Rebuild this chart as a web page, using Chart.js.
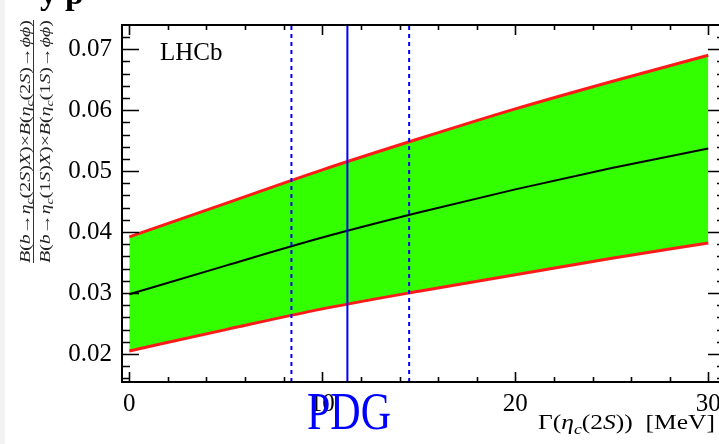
<!DOCTYPE html>
<html><head><meta charset="utf-8">
<script src="https://cdn.jsdelivr.net/npm/chart.js@4"></script>
<style>
html,body{margin:0;padding:0;background:#fff;overflow:hidden;width:719px;height:444px}
#wrap{position:absolute;left:0;top:0;width:735px;height:444px}
</style></head>
<body><div id="wrap"><canvas id="c" width="735" height="444"></canvas></div>
<script>
// ---- data ----
const gammaX      = [0, 5, 10, 15, 20, 25, 30];
const upperVals   = [0.0392, 0.0447, 0.0502, 0.0553, 0.0602, 0.0647, 0.0690];
const centralVals = [0.0298, 0.0345, 0.0391, 0.0432, 0.0470, 0.0505, 0.0537];
const lowerVals   = [0.0205, 0.0240, 0.0274, 0.0303, 0.0330, 0.0357, 0.0382];
const pdgCentral  = [11.3];
const pdgBand     = [8.4, 14.5];
const xTicks      = [0, 10, 20, 30];
const yTicks      = [0.02, 0.03, 0.04, 0.05, 0.06, 0.07];
const xRange      = [-0.378, 30.865];
const yRange      = [0.01541, 0.07396];

const SERIF = '"Liberation Serif", "Times New Roman", serif';
const pts = (ys) => gammaX.map((x, i) => ({x, y: ys[i]}));
const vline = (x) => [{x, y: yRange[0]}, {x, y: yRange[1]}];

function segFont(s, size){ return (s.it ? 'italic ' : '') + (s.sub ? size*0.7 : size) + 'px ' + SERIF; }
function measureRich(ctx, segs, size){ let w = 0; for (const s of segs){ ctx.font = segFont(s, size); w += ctx.measureText(s.t).width; } return w; }
function drawRich(ctx, segs, x, y, size, targetW){
  const w = measureRich(ctx, segs, size);
  const sx = targetW ? targetW / w : 1;
  ctx.save(); ctx.translate(x, y); ctx.scale(sx, 1);
  ctx.textAlign = 'left'; ctx.textBaseline = 'alphabetic';
  let cx = 0;
  for (const s of segs){ ctx.font = segFont(s, size); ctx.fillText(s.t, cx, s.sub ? size*0.22 : 0); cx += ctx.measureText(s.t).width; }
  ctx.restore();
}
const fracSegs = (n) => [
  {t:'B', it:1},{t:'('},{t:'b', it:1},{t:'\u2192'},{t:'\u03B7', it:1},{t:'c', it:1, sub:1},{t:'('+n},{t:'S', it:1},{t:')'},{t:'X', it:1},{t:')\u00D7'},
  {t:'B', it:1},{t:'('},{t:'\u03B7', it:1},{t:'c', it:1, sub:1},{t:'('+n},{t:'S', it:1},{t:')\u2192'},{t:'\u03D5\u03D5', it:1},{t:')'}
];
const xTitleSegs = [{t:'\u0393('},{t:'\u03B7', it:1},{t:'c', it:1, sub:1},{t:'(2'},{t:'S', it:1},{t:'))  [MeV]'}];

const framePlugin = {
  id: 'frame',
  beforeDraw(chart){
    const ctx = chart.ctx;
    ctx.save();
    ctx.fillStyle = '#f2f2f2';
    ctx.fillRect(0, 0, 5, 444);
    ctx.restore();
  },
  afterDraw(chart){
    const ctx = chart.ctx, a = chart.chartArea;
    const xs = chart.scales.x, ys = chart.scales.y;
    ctx.save();
    ctx.strokeStyle = '#000'; ctx.lineWidth = 2;
    ctx.strokeRect(a.left, a.top, a.right - a.left, a.bottom - a.top);
    ctx.lineWidth = 1.6;
    ctx.beginPath();
    for (let v = 0; v <= 30.0001; v += 2){
      const px = Math.round(xs.getPixelForValue(v)) + 0.5;
      const major = Math.abs(v % 10) < 1e-6;
      const L = major ? 10 : 5;
      ctx.moveTo(px, a.bottom); ctx.lineTo(px, a.bottom - L);
      ctx.moveTo(px, a.top); ctx.lineTo(px, a.top + L);
    }
    for (let k = 8; k <= 37; k++){
      const v = k * 0.002;
      if (v < yRange[0] || v > yRange[1]) continue;
      const py = Math.round(ys.getPixelForValue(v)) + 0.5;
      const major = k % 5 === 0;
      const L = major ? 17 : 8;
      ctx.moveTo(a.left, py); ctx.lineTo(a.left + L, py);
      ctx.moveTo(a.right, py); ctx.lineTo(a.right - L, py);
    }
    ctx.stroke();

    // LHCb label
    ctx.fillStyle = '#000';
    ctx.font = '25px ' + SERIF;
    ctx.textAlign = 'left'; ctx.textBaseline = 'alphabetic';
    ctx.fillText('LHCb', 160, 60);

    // cut-off caption at top
    ctx.font = 'bold 34px ' + SERIF;
    ctx.fillText('y', 40, 4);
    ctx.fillText('p', 65, 4);

    // x title
    ctx.fillStyle = '#000';
    drawRich(ctx, xTitleSegs, 538, 429, 22, 177);

    // PDG
    ctx.save();
    ctx.fillStyle = '#0000ff';
    ctx.font = '42px ' + SERIF;
    ctx.translate(349, 429); ctx.scale(1, 1.25);
    ctx.textAlign = 'center'; ctx.textBaseline = 'alphabetic';
    ctx.fillText('PDG', 0, 0);
    ctx.restore();

    // y title (fraction)
    ctx.save();
    ctx.translate(0, 263); ctx.rotate(-Math.PI/2);
    ctx.fillStyle = '#222';
    drawRich(ctx, fracSegs(2), 0, 30, 15, 243);
    drawRich(ctx, fracSegs(1), 0, 50, 15, 243);
    ctx.restore();
    ctx.strokeStyle = '#333'; ctx.lineWidth = 1;
    ctx.beginPath(); ctx.moveTo(33.5, 20); ctx.lineTo(33.5, 263); ctx.stroke();
    ctx.restore();
  }
};

new Chart(document.getElementById('c'), {
  type: 'line',
  data: {
    datasets: [
      {data: vline(pdgCentral[0]), borderColor: '#0000ff', borderWidth: 2, pointRadius: 0, fill: false},
      {data: vline(pdgBand[0]), borderColor: '#0000ff', borderWidth: 2, borderDash: [4, 4], pointRadius: 0, fill: false},
      {data: vline(pdgBand[1]), borderColor: '#0000ff', borderWidth: 2, borderDash: [4, 4], pointRadius: 0, fill: false},
      {data: pts(centralVals), borderColor: '#000', borderWidth: 2, pointRadius: 0, fill: false, cubicInterpolationMode: 'monotone'},
      {data: pts(upperVals), borderColor: '#ff1a1a', borderWidth: 3, pointRadius: 0, fill: '+1', backgroundColor: 'rgb(51,255,0)', cubicInterpolationMode: 'monotone'},
      {data: pts(lowerVals), borderColor: '#ff1a1a', borderWidth: 3, pointRadius: 0, fill: false, cubicInterpolationMode: 'monotone'}
    ]
  },
  options: {
    responsive: false, animation: false, devicePixelRatio: 1,
    layout: {padding: {top: 12, right: 10, left: 0, bottom: 0}},
    plugins: {legend: {display: false}, tooltip: {enabled: false}, filler: {drawTime: 'beforeDatasetsDraw'}},
    scales: {
      x: {
        type: 'linear', min: xRange[0], max: xRange[1],
        grid: {display: false, drawTicks: false}, border: {display: false},
        afterBuildTicks: (s) => { s.ticks = xTicks.map(v => ({value: v})); },
        afterFit: (s) => { s.height = 62; },
        ticks: {autoSkip: false, maxRotation: 0, padding: 7, color: '#000', font: {family: SERIF, size: 25}, callback: (v) => String(v)}
      },
      y: {
        type: 'linear', min: yRange[0], max: yRange[1],
        grid: {display: false, drawTicks: false}, border: {display: false},
        afterBuildTicks: (s) => { s.ticks = yTicks.map(v => ({value: v})); },
        afterFit: (s) => { s.width = 122; },
        ticks: {autoSkip: false, padding: 10, color: '#000', font: {family: SERIF, size: 25}, callback: (v) => Number(v).toFixed(2)}
      }
    }
  },
  plugins: [framePlugin]
});
</script>
</body></html>
